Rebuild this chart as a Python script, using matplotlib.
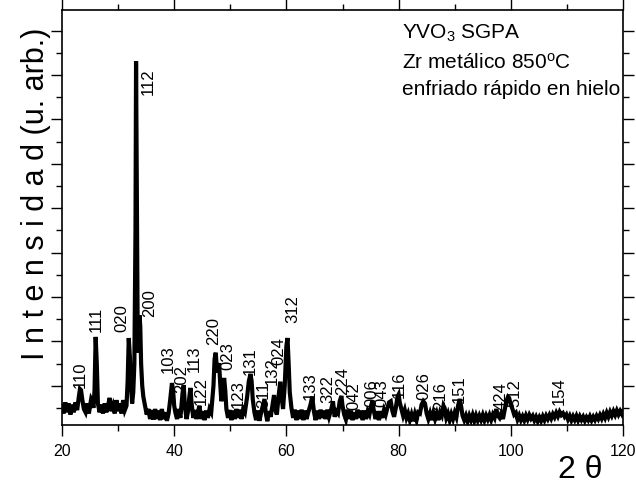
import matplotlib
matplotlib.use("Agg")
import matplotlib.pyplot as plt
from matplotlib.ticker import MultipleLocator

plt.rcParams['font.family'] = ['Liberation Sans', 'DejaVu Sans']
plt.rcParams['mathtext.fontset'] = 'custom'
plt.rcParams['mathtext.rm'] = 'Liberation Sans'
plt.rcParams['mathtext.it'] = 'Liberation Sans'

# ---- diffraction pattern (2theta, intensity in a.u.) ----
two_theta = [
    20.0, 20.3, 20.6, 20.9, 21.2, 21.5, 21.8, 22.1, 22.4, 22.7,
    23.0, 23.2, 23.4, 23.6, 23.9, 24.2, 24.5, 24.8, 25.0, 25.2,
    25.4, 25.6, 25.8, 26.0, 26.2, 26.4, 26.7, 27.0, 27.3, 27.6,
    27.9, 28.2, 28.5, 28.8, 29.1, 29.4, 29.7, 30.0, 30.3, 30.6,
    30.9, 31.2, 31.5, 31.7, 31.9, 32.1, 32.3, 32.5, 32.7, 32.9,
    33.1, 33.2, 33.35, 33.5, 33.65, 33.8, 33.95, 34.1, 34.3, 34.5,
    34.8, 35.1, 35.4, 35.7, 36.0, 36.3, 36.6, 36.9, 37.2, 37.5,
    37.8, 38.1, 38.4, 38.7, 39.0, 39.3, 39.6, 39.8, 40.0, 40.2,
    40.5, 40.8, 41.1, 41.5, 41.7, 41.9, 42.2, 42.5, 42.7, 42.9,
    43.1, 43.4, 43.7, 44.0, 44.3, 44.5, 44.8, 45.1, 45.4, 45.7,
    46.0, 46.3, 46.6, 47.0, 47.2, 47.4, 47.6, 47.8, 48.0, 48.2,
    48.4, 48.6, 48.9, 49.1, 49.3, 49.6, 49.9, 50.2, 50.5, 50.8,
    51.1, 51.4, 51.7, 52.0, 52.3, 52.6, 53.0, 53.3, 53.6, 53.8,
    54.0, 54.3, 54.6, 54.9, 55.2, 55.5, 55.8, 56.1, 56.3, 56.6,
    56.9, 57.2, 57.5, 57.8, 58.0, 58.3, 58.6, 58.9, 59.1, 59.4,
    59.7, 60.0, 60.2, 60.4, 60.6, 60.9, 61.2, 61.5, 61.8, 62.1,
    62.4, 62.7, 63.0, 63.3, 63.6, 63.9, 64.3, 64.6, 64.9, 65.2,
    65.5, 65.8, 66.1, 66.4, 66.7, 67.0, 67.3, 67.6, 68.0, 68.3,
    68.6, 68.9, 69.2, 69.5, 69.8, 70.0, 70.3, 70.6, 70.9, 71.2,
    71.5, 71.8, 72.1, 72.4, 72.7, 73.0, 73.3, 73.6, 73.9, 74.2,
    74.5, 74.8, 75.1, 75.3, 75.6, 75.9, 76.2, 76.5, 76.8, 77.1,
    77.4, 77.7, 78.0, 78.3, 78.6, 78.9, 79.2, 79.5, 79.8, 80.0,
    80.2, 80.5, 80.8, 81.1, 81.4, 81.7, 82.0, 82.3, 82.6, 82.9,
    83.2, 83.5, 83.8, 84.1, 84.4, 84.7, 85.0, 85.3, 85.6, 85.9,
    86.2, 86.5, 86.8, 87.1, 87.4, 87.7, 88.0, 88.2, 88.5, 88.8,
    89.1, 89.4, 89.7, 90.0, 90.3, 90.6, 90.9, 91.1, 91.4, 91.7,
    92.0, 92.3, 92.6, 92.9, 93.2, 93.5, 93.8, 94.1, 94.4, 94.7,
    95.0, 95.3, 95.6, 95.9, 96.2, 96.5, 96.8, 97.1, 97.4, 97.7,
    98.0, 98.3, 98.6, 98.9, 99.2, 99.5, 99.7, 100.0, 100.3, 100.6,
    100.9, 101.2, 101.5, 101.8, 102.1, 102.4, 102.7, 103.0, 103.3, 103.6,
    103.9, 104.2, 104.5, 104.8, 105.1, 105.4, 105.7, 106.0, 106.3, 106.6,
    106.9, 107.2, 107.5, 107.8, 108.1, 108.4, 108.7, 109.0, 109.3, 109.6,
    109.9, 110.2, 110.5, 110.8, 111.1, 111.4, 111.7, 112.0, 112.3, 112.6,
    112.9, 113.2, 113.5, 113.8, 114.1, 114.4, 114.7, 115.0, 115.3, 115.6,
    115.9, 116.2, 116.5, 116.8, 117.1, 117.4, 117.7, 118.0, 118.3, 118.6,
    118.9, 119.2, 119.5, 119.8, 120.0,
]
intensity = [
    110, 75, 125, 80, 120, 70, 115, 80, 125, 90,
    150, 185, 180, 140, 95, 80, 120, 75, 110, 140,
    130, 100, 180, 420, 300, 120, 80, 115, 75, 120,
    80, 110, 145, 85, 110, 75, 135, 85, 120, 75,
    135, 90, 110, 220, 415, 330, 200, 120, 170, 300,
    900, 1662, 1000, 400, 350, 518, 470, 300, 200, 150,
    110, 70, 95, 50, 90, 48, 95, 50, 88, 45,
    95, 50, 80, 42, 75, 140, 212, 180, 110, 80,
    50, 95, 55, 170, 203, 110, 50, 90, 150, 190,
    120, 55, 90, 50, 88, 110, 50, 85, 45, 88,
    55, 95, 80, 200, 320, 349, 280, 260, 302, 210,
    130, 160, 235, 180, 95, 55, 90, 45, 88, 50,
    95, 55, 92, 50, 95, 80, 150, 220, 253, 220,
    140, 80, 45, 88, 42, 80, 110, 140, 80, 40,
    85, 60, 110, 158, 95, 70, 150, 218, 160, 95,
    200, 380, 415, 300, 170, 100, 55, 92, 45, 88,
    50, 92, 45, 88, 50, 80, 115, 151, 85, 45,
    88, 50, 92, 55, 88, 50, 92, 60, 95, 130,
    60, 85, 75, 130, 154, 110, 70, 48, 92, 50,
    88, 45, 80, 50, 92, 55, 88, 45, 88, 50,
    85, 70, 110, 130, 85, 50, 85, 45, 85, 55,
    90, 70, 100, 125, 130, 85, 60, 100, 150, 160,
    125, 95, 65, 90, 55, 75, 45, 70, 40, 72,
    45, 80, 75, 115, 130, 120, 75, 50, 75, 45,
    78, 50, 75, 45, 80, 65, 110, 100, 55, 75,
    45, 72, 50, 78, 58, 110, 140, 115, 65, 45,
    65, 40, 65, 45, 68, 42, 66, 44, 65, 46,
    68, 44, 66, 48, 68, 46, 70, 55, 95, 65,
    55, 75, 50, 90, 130, 150, 145, 115, 95, 70,
    78, 48, 66, 45, 62, 44, 66, 48, 68, 52,
    64, 44, 60, 40, 58, 42, 62, 45, 65, 50,
    68, 52, 72, 58, 78, 62, 82, 68, 76, 60,
    70, 48, 64, 44, 62, 46, 64, 44, 62, 46,
    60, 42, 58, 45, 62, 44, 60, 46, 64, 50,
    68, 52, 72, 55, 78, 60, 82, 65, 85, 68,
    88, 70, 86, 72, 85,
]

# ---- Miller index labels: (label, 2theta position, bottom of text) ----
hkl_labels = ['110', '111', '020', '200', '112', '103', '202', '113', '122', '220',
              '023', '123', '131', '311', '132', '024', '312', '133', '322', '224',
              '042', '006', '043', '116', '026', '216', '151', '424', '512', '154']
hkl_x = [23.2, 26.1, 30.7, 35.7, 35.4, 38.9, 41.4, 43.6, 44.8, 47.0,
         49.6, 51.4, 53.6, 55.9, 57.5, 58.6, 61.1, 64.3, 67.3, 70.0,
         72.0, 75.2, 77.1, 80.2, 84.5, 87.5, 90.9, 98.2, 100.7, 108.6]
hkl_y = [190, 442, 442, 510, 1508, 258, 168, 262, 114, 384,
         271, 100, 249, 100, 204, 294, 483, 136, 123, 159,
         91, 105, 105, 145, 136, 91, 123, 91, 105, 114]

annotation_lines = ['YVO$_3$ SGPA', 'Zr metálico 850$^{\\rm o}$C', 'enfriado rápido en hielo']

fig = plt.figure(figsize=(6.36, 4.86), dpi=100)
ax = fig.add_axes([62 / 636, 1 - 425 / 486, 561 / 636, 415 / 486])

ax.plot(two_theta, intensity, color='black', lw=3.0, solid_joinstyle='miter')

for lab, x, y in zip(hkl_labels, hkl_x, hkl_y):
    ax.text(x, y, lab, rotation=90, ha='center', va='bottom', fontsize=12)

ax.set_xlim(20, 120)
ax.set_ylim(23, 1893)
ax.xaxis.set_major_locator(MultipleLocator(20))
ax.xaxis.set_minor_locator(MultipleLocator(10))
ax.yaxis.set_major_locator(MultipleLocator(200))
ax.yaxis.set_minor_locator(MultipleLocator(100))
ax.tick_params(which='both', direction='out', top=True, right=True, width=1.0,
               labelsize=11.5, pad=6)
ax.tick_params(which='major', length=8)
ax.tick_params(which='minor', length=4)
ax.tick_params(axis='y', labelleft=False)
for s in ax.spines.values():
    s.set_linewidth(1.2)

ys = [0.930, 0.858, 0.795]
for t, yy in zip(annotation_lines, ys):
    ax.text(0.606, yy, t, transform=ax.transAxes, fontsize=15, va='baseline', ha='left')

fig.text(36 / 636, 1 - 194 / 486, 'I n t e n s i d a d (u. arb.)', rotation=90,
         ha='center', va='center', fontsize=22)
fig.text(580 / 636, 1 - 470 / 486, '2 θ', ha='center', va='center', fontsize=23)

fig.savefig('out.png', dpi=100)
